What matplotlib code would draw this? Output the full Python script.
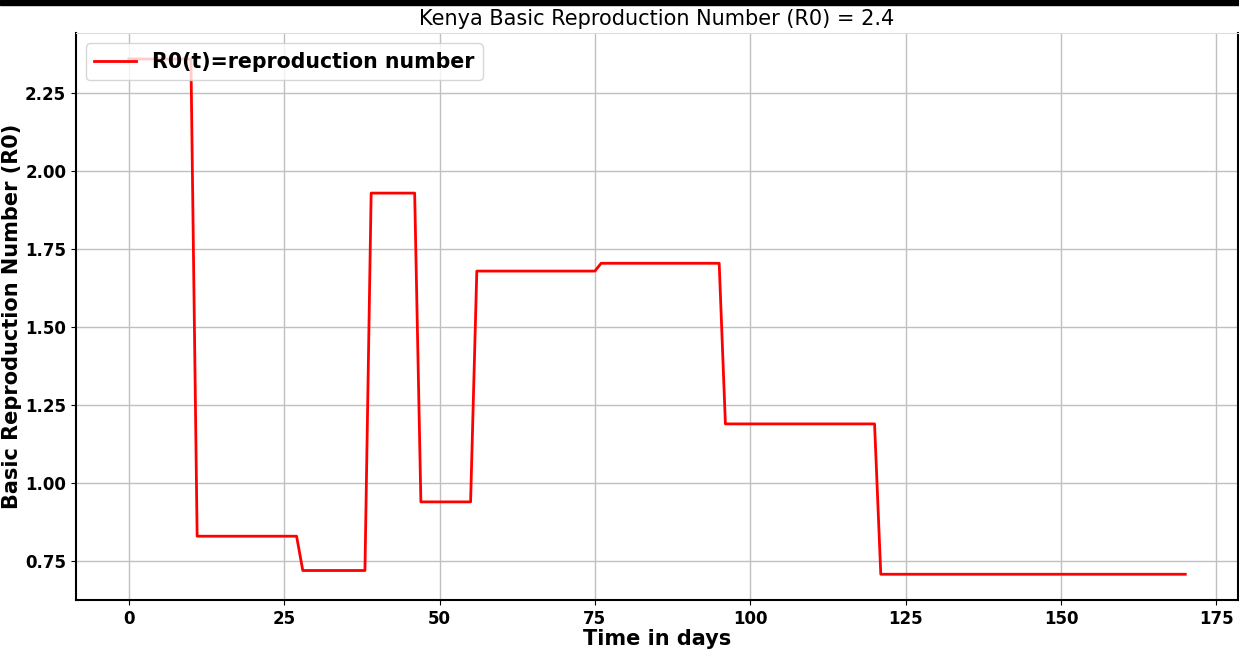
import matplotlib
matplotlib.use("Agg")
import matplotlib.pyplot as plt
from matplotlib.patches import Rectangle

# Day at which each R0 value takes effect / ends (vertices of the R0(t) curve)
days = [0, 10, 11, 27, 28, 38, 39, 46, 47, 55, 56, 75, 76, 95, 96, 120, 121, 170]
r0_values = [2.36, 2.36, 0.83, 0.83, 0.72, 0.72, 1.93, 1.93, 0.94, 0.94,
             1.68, 1.68, 1.705, 1.705, 1.19, 1.19, 0.708, 0.708]

x_ticks = [0, 25, 50, 75, 100, 125, 150, 175]
y_ticks = [0.75, 1.00, 1.25, 1.50, 1.75, 2.00, 2.25]

fig = plt.figure(figsize=(12.39, 6.5), dpi=100)
ax = fig.add_axes([0.0613, 0.0769, 0.938, 0.872])

ax.plot(days, r0_values, color="red", linewidth=2, label="R0(t)=reproduction number")

ax.set_xticks(x_ticks)
ax.set_yticks(y_ticks)
ax.set_yticklabels([f"{v:.2f}" for v in y_ticks])
for lbl in ax.get_xticklabels() + ax.get_yticklabels():
    lbl.set_fontweight("bold")
    lbl.set_fontsize(12)

ax.grid(True, color="#c0c0c0", linewidth=1)
ax.set_axisbelow(True)

ax.set_title("Kenya Basic Reproduction Number (R0) = 2.4", fontsize=15, pad=6)
ax.set_xlabel("Time in days", fontsize=15, fontweight="bold", labelpad=1)
ax.set_ylabel("Basic Reproduction Number (R0)", fontsize=15, fontweight="bold")
ax.yaxis.set_label_coords(-0.0462, 0.5)

for side in ("left", "bottom", "right"):
    ax.spines[side].set_color("black")
    ax.spines[side].set_linewidth(1.5)
ax.spines["top"].set_color("#dddddd")

ax.legend(loc="upper left", prop={"weight": "bold", "size": 14.8}, framealpha=0.8)

# dark band along the top edge of the figure
fig.patches.append(Rectangle((0, 0.992), 1, 0.008, transform=fig.transFigure,
                             color="black", zorder=10))

fig.savefig("out.png", dpi=100)
